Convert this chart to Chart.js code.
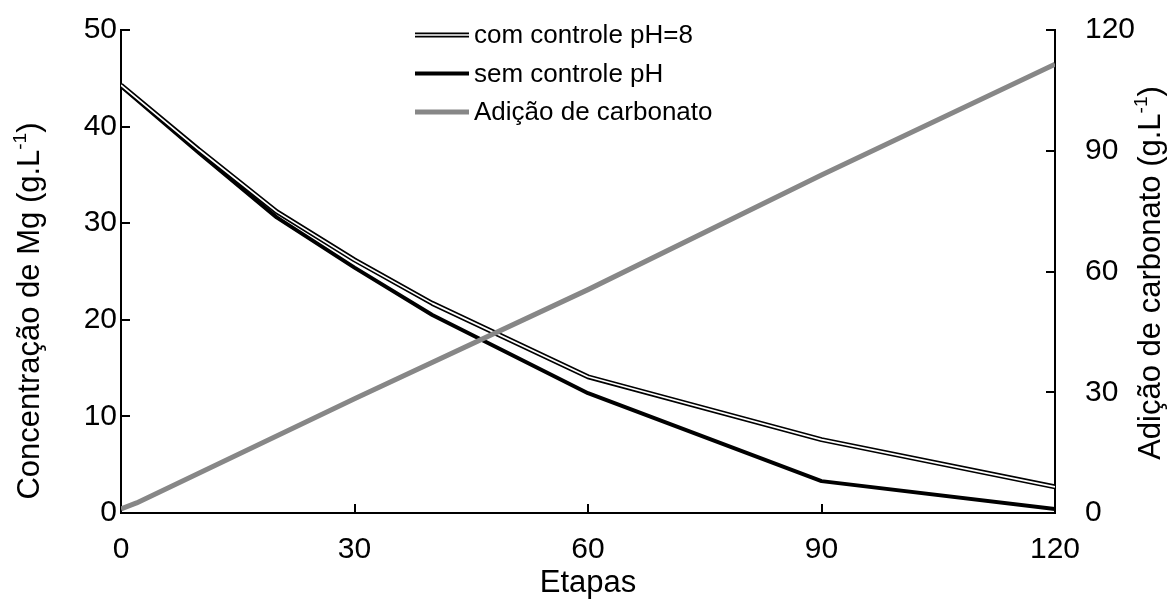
<!DOCTYPE html>
<html lang="pt">
<head>
<meta charset="UTF-8">
<title>Concentração de Mg por etapa</title>
<script src="https://cdn.jsdelivr.net/npm/chart.js@4.4.1/dist/chart.umd.min.js"></script>
<style>
  body { margin: 0; background: #fff; }
  .grafico-box { width: 1173px; height: 614px; }
</style>
</head>
<body>
<div class="grafico-box"><canvas id="grafico"></canvas></div>
<script>
// valores lidos por etapa
const etapas = [0, 10, 20, 30, 40, 60, 90, 120];
const comControle = [44.3, 37.6, 31.2, 26.2, 21.7, 14.1, 7.6, 2.7];
const semControle = [44.2, 37.3, 30.6, 25.4, 20.5, 12.4, 3.3, 0.4];
const etapasCarbonato = [0, 2, 30, 60, 90, 120];
const carbonato = [1, 2.5, 28.4, 55.5, 84, 111.5];

const ticksEtapas = [0, 30, 60, 90, 120];
const ticksMg = [0, 10, 20, 30, 40, 50];
const ticksCarbonato = [0, 30, 60, 90, 120];

const FONTE = '"Liberation Sans", Arial, sans-serif';
const CINZA = '#878787';

function pontos(xs, ys) {
  return xs.map((x, i) => ({ x: x, y: ys[i] }));
}

function fixarTicks(lista) {
  return scale => { scale.ticks = lista.map(v => ({ value: v })); };
}

// largura fixa do eixo vertical, sem folga extra em cima/embaixo
function larguraEixo(w) {
  return scale => {
    scale.width = w;
    scale.paddingTop = 0;
    scale.paddingBottom = 0;
  };
}

// marcas de escala para dentro da area do grafico
const marcasInternas = {
  id: 'marcasInternas',
  beforeDatasetsDraw(chart) {
    const { ctx, chartArea, scales } = chart;
    const len = 9;
    ctx.save();
    ctx.strokeStyle = '#000';
    ctx.lineWidth = 2;
    ctx.beginPath();
    scales.x.ticks.forEach(t => {
      const px = Math.round(scales.x.getPixelForValue(t.value));
      ctx.moveTo(px, chartArea.bottom);
      ctx.lineTo(px, chartArea.bottom - len);
    });
    scales.y.ticks.forEach(t => {
      const py = Math.round(scales.y.getPixelForValue(t.value));
      ctx.moveTo(chartArea.left, py);
      ctx.lineTo(chartArea.left + len, py);
    });
    scales.y2.ticks.forEach(t => {
      const py = Math.round(scales.y2.getPixelForValue(t.value));
      ctx.moveTo(chartArea.right, py);
      ctx.lineTo(chartArea.right - len, py);
    });
    ctx.stroke();
    ctx.restore();
  }
};

// titulo vertical (de baixo para cima) com expoente
function tituloVertical(ctx, partes, cx, cy) {
  const tam = 31, tamSup = 19;
  let total = 0;
  partes.forEach(p => {
    ctx.font = (p.sup ? tamSup : tam) + 'px ' + FONTE;
    p.w = ctx.measureText(p.t).width;
    total += p.w;
  });
  ctx.save();
  ctx.translate(cx, cy);
  ctx.rotate(-Math.PI / 2);
  ctx.fillStyle = '#000';
  ctx.textBaseline = 'middle';
  let x = -total / 2;
  partes.forEach(p => {
    ctx.font = (p.sup ? tamSup : tam) + 'px ' + FONTE;
    ctx.fillText(p.t, x, p.sup ? -9 : 0);
    x += p.w;
  });
  ctx.restore();
}

const titulosEixos = {
  id: 'titulosEixos',
  afterDraw(chart) {
    const ctx = chart.ctx;
    tituloVertical(ctx, [{ t: 'Concentração de Mg (g.L' }, { t: '-1', sup: true }, { t: ')' }], 30, 311);
    tituloVertical(ctx, [{ t: 'Adição de carbonato (g.L' }, { t: '-1', sup: true }, { t: ')' }], 1151, 273);
  }
};

// legenda com amostra de linha (linha dupla para "com controle")
const legendaLinhas = {
  id: 'legendaLinhas',
  afterDraw(chart) {
    const ctx = chart.ctx;
    const x0 = 415, x1 = 469, y0 = 35, passo = 38.5;
    const itens = chart.data.datasets.filter(d => d.label);
    ctx.save();
    ctx.font = '26px ' + FONTE;
    ctx.textBaseline = 'middle';
    ctx.fillStyle = '#000';
    itens.forEach((d, i) => {
      const y = y0 + i * passo;
      ctx.beginPath();
      ctx.moveTo(x0, y);
      ctx.lineTo(x1, y);
      ctx.strokeStyle = d.borderColor;
      ctx.lineWidth = d.borderWidth;
      ctx.stroke();
      if (d.miolo) {
        ctx.strokeStyle = d.miolo;
        ctx.lineWidth = 1.7;
        ctx.stroke();
      }
      ctx.fillText(d.label, x1 + 5, y + 1);
    });
    ctx.restore();
  }
};

const fonteEixo = { family: FONTE, size: 30 };
const fonteTitulo = { family: FONTE, size: 31 };

new Chart(document.getElementById('grafico'), {
  type: 'line',
  data: {
    datasets: [
      {
        label: 'com controle pH=8',
        data: pontos(etapas, comControle),
        borderColor: '#000',
        borderWidth: 5,
        miolo: '#fff',
        yAxisID: 'y',
        order: 2
      },
      {
        data: pontos(etapas, comControle),
        borderColor: '#fff',
        borderWidth: 1.7,
        yAxisID: 'y',
        order: 1
      },
      {
        label: 'sem controle pH',
        data: pontos(etapas, semControle),
        borderColor: '#000',
        borderWidth: 4,
        yAxisID: 'y',
        order: 3
      },
      {
        label: 'Adição de carbonato',
        data: pontos(etapasCarbonato, carbonato),
        borderColor: CINZA,
        borderWidth: 5,
        yAxisID: 'y2',
        order: 0
      }
    ]
  },
  options: {
    responsive: true,
    maintainAspectRatio: false,
    animation: false,
    layout: { padding: { top: 30, left: 0, right: 0, bottom: 0 } },
    elements: {
      point: { radius: 0, hoverRadius: 0 },
      line: { tension: 0, fill: false, borderJoinStyle: 'round' }
    },
    plugins: {
      legend: { display: false },
      tooltip: { enabled: false }
    },
    scales: {
      x: {
        type: 'linear',
        min: 0,
        max: 120,
        afterBuildTicks: fixarTicks(ticksEtapas),
        afterFit: s => { s.height = 101; },
        grid: { display: false, drawTicks: false },
        border: { display: true, color: '#000', width: 2 },
        ticks: { font: fonteEixo, color: '#000', padding: 19, maxRotation: 0 },
        title: { display: true, text: 'Etapas', font: fonteTitulo, color: '#000', padding: { top: 0, bottom: 12 } }
      },
      y: {
        type: 'linear',
        position: 'left',
        min: 0,
        max: 50,
        afterBuildTicks: fixarTicks(ticksMg),
        afterFit: larguraEixo(121),
        grid: { display: false, drawTicks: false },
        border: { display: true, color: '#000', width: 2 },
        ticks: { font: fonteEixo, color: '#000', padding: 4 }
      },
      y2: {
        type: 'linear',
        position: 'right',
        min: 0,
        max: 120,
        afterBuildTicks: fixarTicks(ticksCarbonato),
        afterFit: larguraEixo(118),
        grid: { display: false, drawTicks: false },
        border: { display: true, color: '#000', width: 2 },
        ticks: { font: fonteEixo, color: '#000', padding: 30 }
      }
    }
  },
  plugins: [marcasInternas, titulosEixos, legendaLinhas]
});
</script>
</body>
</html>
